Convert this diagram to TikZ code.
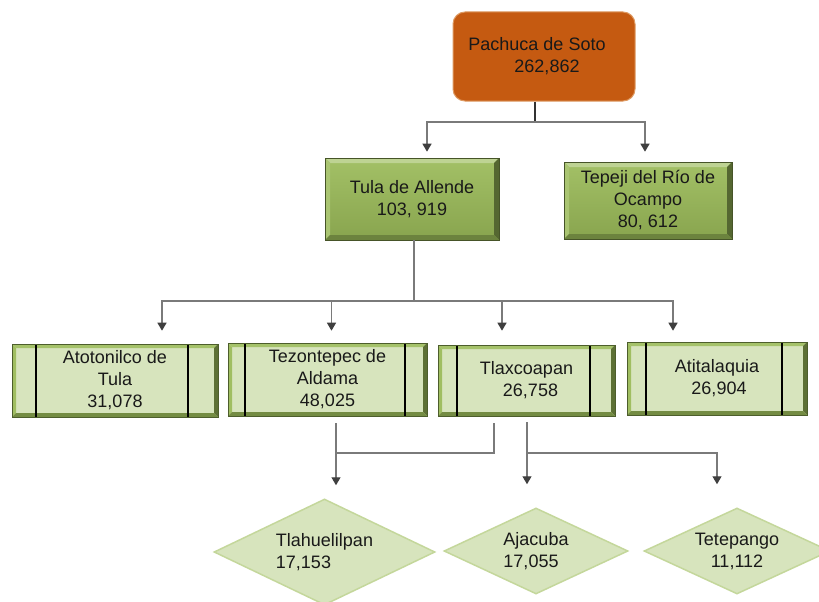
\documentclass[tikz,border=0pt]{standalone}
\usepackage{fontspec}
\setmainfont{Liberation Sans}
\usetikzlibrary{arrows.meta,shapes.geometric}
\definecolor{pachfill}{HTML}{C55A11}
\definecolor{pachdraw}{HTML}{DE9A62}
\definecolor{lvtwo}{HTML}{9BBB59}
\definecolor{lvthree}{HTML}{D7E4BD}
\definecolor{dmdraw}{HTML}{C4D79B}
\definecolor{conncol}{HTML}{7A7A7A}
\definecolor{tipcol}{HTML}{3F3F3F}
\newcommand\bevelpaint[5]{%
  \path (path picture bounding box.north west) coordinate (bvA)
        (path picture bounding box.north east) coordinate (bvB)
        (path picture bounding box.south east) coordinate (bvC)
        (path picture bounding box.south west) coordinate (bvD);
  \fill[#2] (bvA) -- (bvB) -- ([shift={(-#1,-#1)}]bvB) -- ([shift={(#1,-#1)}]bvA) -- cycle;
  \fill[#3] (bvA) -- (bvD) -- ([shift={(#1,#1)}]bvD) -- ([shift={(#1,-#1)}]bvA) -- cycle;
  \fill[#4] (bvB) -- (bvC) -- ([shift={(-#1,#1)}]bvC) -- ([shift={(-#1,-#1)}]bvB) -- cycle;
  \fill[#5] (bvD) -- (bvC) -- ([shift={(-#1,#1)}]bvC) -- ([shift={(#1,#1)}]bvD) -- cycle;
}
\tikzset{
  txt/.style={text=black!90, align=center, font=\fontsize{18}{22}\selectfont},
  topbox/.style={txt, rectangle, rounded corners=12pt, fill=pachfill, draw=pachdraw,
    line width=1pt, inner sep=0pt},
  lvtwobox/.style={txt, rectangle, inner sep=0pt, top color=lvtwo!92!white,
    bottom color=lvtwo!88!black, draw=lvtwo!45!black, line width=0.6pt,
    path picture={\bevelpaint{5pt}{lvtwo!65!white}{lvtwo!85!white}{lvtwo!55!black}{lvtwo!70!black}}},
  lvthreebox/.style 2 args={txt, rectangle, inner sep=0pt, fill=lvthree,
    draw=lvtwo!50!black, line width=0.6pt,
    path picture={\bevelpaint{4pt}{lvtwo!90!white}{lvtwo!95!white}{lvtwo!60!black}{lvtwo!75!black}
      \draw[black, line width=1.3pt] ([xshift=#1]bvA) -- ([xshift=#1]bvD);
      \draw[black, line width=1.3pt] ([xshift=-#2]bvB) -- ([xshift=-#2]bvC);}},
  dmd/.style={txt, diamond, inner sep=0pt, fill=lvthree, draw=dmdraw, line width=1.5pt},
  conn/.style={draw=conncol, line width=1.3pt},
  arr/.style={-{Triangle[width=9pt,length=8pt,color=tipcol]}},
}
\begin{document}
\begin{tikzpicture}[x=1pt,y=-1pt]
\useasboundingbox (0,0) rectangle (819,602);
\clip (0,0) rectangle (819,602);
\fill[white] (0,0) rectangle (819,602);

% nodes
\node[topbox, minimum width=182pt, minimum height=89pt] (pach) at (544,56.5)
  {\hbox{Pachuca de Soto\kern14pt}\\\hbox{\kern6pt 262,862}};
\node[lvtwobox, minimum width=174pt, minimum height=82pt] (tula) at (412,199)
  {Tula de Allende\\103, 919};
\node[lvtwobox, minimum width=168pt, minimum height=77pt] (tep) at (648,200.5)
  {Tepeji del Río de\\Ocampo\\80, 612};
\node[lvthreebox={24pt}{30pt}, minimum width=206pt, minimum height=73pt] (ato) at (115,380.5)
  {Atotonilco de\\Tula\\31,078};
\node[lvthreebox={17pt}{22pt}, minimum width=199pt, minimum height=73pt] (tez) at (327.5,379.5)
  {Tezontepec de\\Aldama\\48,025};
\node[lvthreebox={19pt}{25pt}, minimum width=177pt, minimum height=71pt] (tlax) at (526.5,380.5)
  {Tlaxcoapan\\\hbox{\kern8pt 26,758}};
\node[lvthreebox={19pt}{25pt}, minimum width=180pt, minimum height=73pt] (atit) at (717,378.5)
  {Atitalaquia\\\hbox{\kern4pt 26,904}};
\node[dmd, aspect=2.08, minimum width=221pt, minimum height=106pt, align=left] (tlh) at (324.5,552)
  {Tlahuelilpan\\17,153};
\node[dmd, aspect=2.14, minimum width=184pt, minimum height=86pt, align=left] (aja) at (536,551)
  {Ajacuba\\17,055};
\node[dmd, aspect=2.16, minimum width=186pt, minimum height=86pt] (tet) at (737,551)
  {Tetepango\\11,112};

% connectors level 1 -> 2
\coordinate (j1) at (535,122);
\draw[draw=black!80, line width=1.3pt] ([xshift=-9pt]pach.south) -- (j1);
\draw[conn, arr, shorten >=6pt] (j1) -| ([xshift=15pt]tula.north);
\draw[conn, arr, shorten >=10pt] (j1) -| ([xshift=-3pt]tep.north);

% connectors level 2 -> 3
\coordinate (j2) at (414,301);
\draw[conn] ([xshift=2pt]tula.south) -- (j2);
\draw[conn, arr, shorten >=13pt] (j2) -| ([xshift=47pt]ato.north);
\draw[conn, arr, shorten >=12pt] (j2) -| ([xshift=4pt]tez.north);
\draw[conn, arr, shorten >=14pt] (j2) -| ([xshift=-24.5pt]tlax.north);
\draw[conn, arr, shorten >=11pt] (j2) -| ([xshift=-44pt]atit.north);

% connectors level 3 -> 4
\coordinate (j3) at (336,453);
\draw[conn] ([xshift=-32.5pt,yshift=-7pt]tlax.south) |- (j3);
\draw[conn, arr, shorten >=13pt] ([xshift=8.5pt,yshift=-7pt]tez.south) -- ([xshift=11.5pt]tlh.north);
\coordinate (j4) at (527,453);
\draw[conn, arr, shorten >=23pt] ([xshift=0.5pt,yshift=-6pt]tlax.south) -- ([xshift=-9pt]aja.north);
\draw[conn, arr, shorten >=23pt] (j4) -| ([xshift=-20pt]tet.north);
\end{tikzpicture}
\end{document}
